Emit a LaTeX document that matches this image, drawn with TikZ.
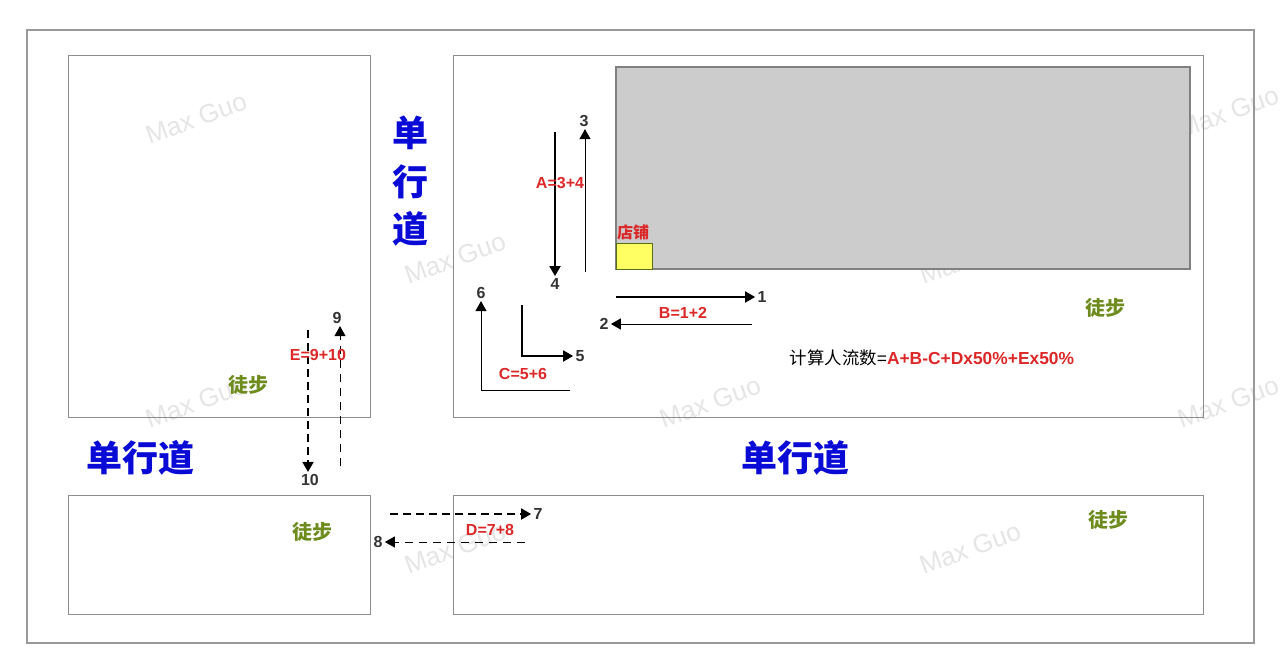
\documentclass[tikz,border=0pt]{standalone}
\usepackage{fontspec}
\setmainfont{Liberation Sans}
\newfontfamily\cjk{Noto Sans CJK SC}
\usetikzlibrary{arrows.meta,positioning}
\definecolor{roadblue}{RGB}{10,10,215}
\definecolor{flowred}{RGB}{220,40,40}
\definecolor{walkgreen}{RGB}{110,140,30}
\definecolor{shopyellow}{RGB}{255,255,100}
\definecolor{mallgray}{RGB}{204,204,204}

\tikzset{
  block/.style={draw=black!45, line width=0.5pt},
  road/.style={text=roadblue, font=\cjk\bfseries\fontsize{18}{19}\selectfont},
  walk/.style={text=walkgreen, font=\cjk\bfseries\fontsize{10}{11}\selectfont},
  flow/.style={text=flowred, font=\bfseries\fontsize{8}{9}\selectfont},
  num/.style={text=black!80, font=\bfseries\fontsize{8}{9}\selectfont, inner sep=1pt},
  goline/.style={-{Triangle[length=5pt,width=5.5pt]}, line width=0.9pt},
  backline/.style={-{Triangle[length=5pt,width=5.5pt]}, line width=0.5pt},
  thickdash/.style={dash pattern=on 4pt off 2.5pt},
  thindash/.style={dash pattern=on 4pt off 3pt},
  mark wm/.style={text=black!10, font=\fontsize{13}{13}\selectfont, rotate=20}
}

\begin{document}
\begin{tikzpicture}[x=0.5pt, y=-0.5pt]
    \useasboundingbox (0,0) rectangle (1282,664);
    % watermarks
    \foreach \wx/\wy in {196/118, 710/118, 1228/112, 455/258, 970/258,
                         196/402, 710/402, 1228/402, 455/548, 970/548}
        \node[mark wm] at (\wx,\wy) {Max Guo};
    % frame and blocks
    \draw[draw=black!40, line width=0.8pt] (27,30) rectangle (1254,643);
    \draw[block] (68,55) rectangle (370,417);
    \draw[block] (453,55) rectangle (1203,417);
    \draw[block] (68,495) rectangle (370,614);
    \draw[block] (453,495) rectangle (1203,614);
    \draw[draw=black!50, fill=mallgray, line width=0.6pt] (616,67) rectangle (1190,269);
    \draw[draw=walkgreen!80!black, fill=shopyellow, line width=0.5pt] (616,243) rectangle (652,269);
    \node[text=flowred, font=\cjk\bfseries\fontsize{8}{9}\selectfont] (shop) at (633,232) {店铺};

    % roads
    \node[road] (roadv1) at (410,133) {单};
    \node[road] (roadv2) at (410,182) {行};
    \node[road] (roadv3) at (410,229) {道};
    \node[road] (roadleft) at (140,458) {单行道};
    \node[road] (roadmid) at (795,458) {单行道};

    % walk areas
    \node[walk] (walk1) at (248,385) {徒步};
    \node[walk] (walk2) at (1105,308) {徒步};
    \node[walk] (walk3) at (312,532) {徒步};
    \node[walk] (walk4) at (1108,520) {徒步};

    % A
    \node[num] (n3) at (584,121) {3};
    \node[num] (n4) at (555,284) {4};
    \coordinate (a4) at (555,132);
    \coordinate (a3) at (585,272);
    \draw[goline] (a4) -- (n4.north);
    \draw[backline] (a3) -- (a3 |- n3.south);
    \node[flow] (fa) at (560,183) {A=3+4};

    % B
    \node[num] (n1) at (762,297) {1};
    \node[num] (n2) at (604,324) {2};
    \coordinate (b1) at (616,297);
    \coordinate (b2) at (752,324);
    \draw[goline] (b1) -- (n1.west);
    \draw[backline] (b2) -- (n2.east);
    \node[flow] (fb) at (683,313) {B=1+2};

    % C
    \node[num] (n5) at (580,356) {5};
    \node[num] (n6) at (481,293) {6};
    \coordinate (c5) at (522,305);
    \coordinate (c6) at (570,390);
    \draw[goline] (c5) |- (n5.west);
    \draw[backline] (c6) -| (n6.south);
    \node[flow] (fc) at (523,374) {C=5+6};

    % D
    \node[num] (n7) at (538,514) {7};
    \node[num] (n8) at (378,542) {8};
    \coordinate (d7) at (390,514);
    \coordinate (d8) at (525,542);
    \draw[goline, thickdash] (d7) -- (n7.west);
    \draw[backline, thindash] (d8) -- (n8.east);
    \node[flow] (fd) at (490,530) {D=7+8};

    % E
    \node[num] (n9) at (337,318) {9};
    \node[num] (n10) at (310,480) {10};
    \coordinate (e10) at (308,330);
    \coordinate (e9) at (340,466);
    \draw[goline, thickdash] (e10) -- (e10 |- n10.north);
    \draw[backline, thindash] (e9) -- (e9 |- n9.south);
    \node[flow] (fe) at (318,355) {E=9+10};

    % formula
    \node[font=\fontsize{8.7}{10}\selectfont, inner sep=0pt] (total) at (932,358)
        {{\cjk 计算人流数}=\textcolor{flowred}{\bfseries A+B-C+Dx50\%+Ex50\%}};
\end{tikzpicture}
\end{document}
